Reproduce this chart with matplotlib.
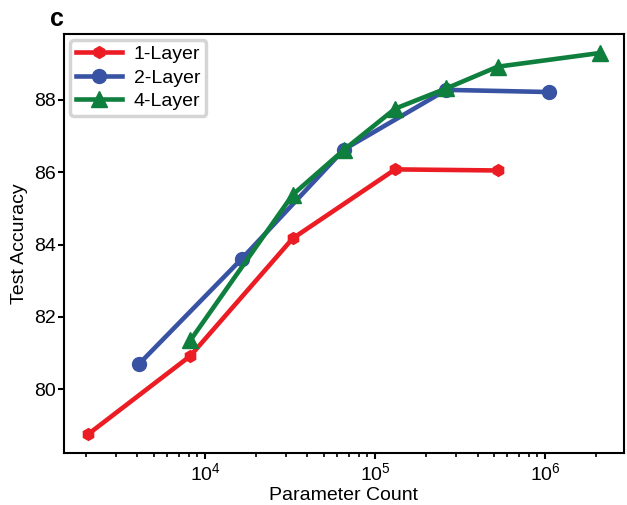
import matplotlib
matplotlib.use('Agg')
import matplotlib.pyplot as plt

plt.rcParams['font.family'] = ['Liberation Sans', 'DejaVu Sans']

params_1 = [2048, 8192, 32768, 131072, 524288]
acc_1 = [78.75, 80.92, 84.17, 86.08, 86.05]

params_2 = [4096, 16384, 65536, 262144, 1048576]
acc_2 = [80.70, 83.60, 86.63, 88.28, 88.22]

params_4 = [8192, 32768, 65536, 131072, 262144, 524288, 2097152]
acc_4 = [81.35, 85.38, 86.62, 87.76, 88.32, 88.92, 89.30]

fig = plt.figure(figsize=(6.27, 5.05), dpi=100)
ax = fig.add_axes([0.102, 0.102, 0.893, 0.831])

ax.plot(params_1, acc_1, color='#ec1c24', lw=3.3, marker='h', ms=8.5, label='1-Layer')
ax.plot(params_2, acc_2, color='#3953a4', lw=3.3, marker='o', ms=10, label='2-Layer')
ax.plot(params_4, acc_4, color='#0f7f3e', lw=3.3, marker='^', ms=11, label='4-Layer')

ax.set_xscale('log')
ax.set_xlim(1480, 2.9e6)
ax.set_ylim(78.22, 89.83)
ax.set_yticks([80, 82, 84, 86, 88])
ax.set_xlabel('Parameter Count', fontsize=14, labelpad=2)
ax.set_ylabel('Test Accuracy', fontsize=14, labelpad=4)
ax.tick_params(labelsize=14, width=1.5, length=4, pad=2)
ax.tick_params(which='minor', width=1.2, length=3)
for s in ax.spines.values():
    s.set_linewidth(1.5)

leg = ax.legend(loc='upper left', fontsize=14, handlelength=2.4, borderpad=0.3,
                labelspacing=0.3, handletextpad=0.6, borderaxespad=0.3,
                fancybox=True, framealpha=1)
leg.get_frame().set_edgecolor('#d5d5d5')
leg.get_frame().set_linewidth(2.5)

fig.text(0.08, 0.962, 'c', fontsize=18, fontweight='bold', ha='left', va='center')

fig.savefig('out.png', dpi=100)
